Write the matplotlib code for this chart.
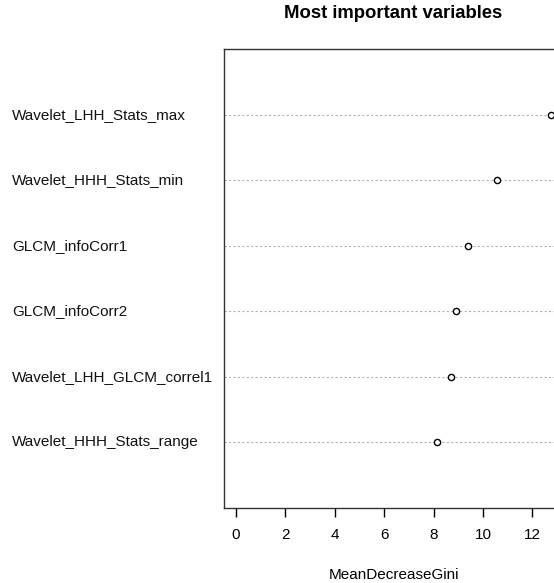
import matplotlib
matplotlib.use("Agg")
import matplotlib.pyplot as plt
from matplotlib.transforms import blended_transform_factory

variables = ["Wavelet_HHH_Stats_range", "Wavelet_LHH_GLCM_correl1", "GLCM_infoCorr2",
             "GLCM_infoCorr1", "Wavelet_HHH_Stats_min", "Wavelet_LHH_Stats_max"]
gini = [8.14, 8.69, 8.90, 9.39, 10.58, 12.75]
xticks = [0, 2, 4, 6, 8, 10, 12]

plt.rcParams['font.family'] = ['Liberation Sans', 'DejaVu Sans']
W, H = 554, 583
fig = plt.figure(figsize=(W/100, H/100), dpi=100)
left, right, top, bottom = 223.5, 563.5, 49, 508
ax = fig.add_axes([left/W, 1-bottom/H, (right-left)/W, (bottom-top)/H])

pos = list(range(1, len(variables)+1))
for y in pos:
    ax.axhline(y, color='#b3b3b3', lw=0.8, ls=(0, (2, 2)), zorder=1)
ax.scatter(gini, pos, s=20, facecolors='white', edgecolors='black', linewidths=1.0, zorder=3)

xmax = max(gini)
ax.set_xlim(-0.04*xmax, xmax*1.04)
ax.set_ylim(0, len(variables)+1)
ax.set_xticks(xticks)
ax.set_xticklabels([str(t) for t in xticks], fontsize=11)
ax.tick_params(axis='x', length=6.5, width=1, pad=8, colors='black')
ax.set_yticks([])
for s in ax.spines.values():
    s.set_color('#333333')
    s.set_linewidth(1.0)

tr = blended_transform_factory(fig.transFigure, ax.transData)
for name, y in zip(variables, pos):
    ax.text(12/W, y, name, transform=tr, ha='left', va='center', fontsize=11, color='#111111')

fig.text(393.5/W, 1-14/H, "Most important variables", ha='center', va='center',
         fontsize=13.3, fontweight='bold')
fig.text(393.5/W, 1-575/H, "MeanDecreaseGini", ha='center', va='center', fontsize=11)
fig.savefig("out.png", dpi=100)
